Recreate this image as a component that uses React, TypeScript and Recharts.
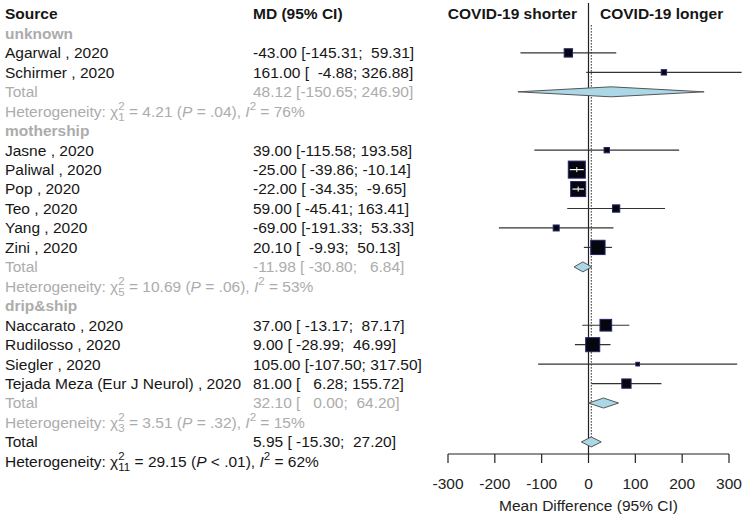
import React from 'react';
import { ComposedChart, XAxis, YAxis, Scatter, ReferenceLine } from 'recharts';

const FONT = '"Liberation Sans", Arial, Helvetica, sans-serif';

// ---------------- data ----------------
const groupNames = ['unknown', 'mothership', 'drip&ship'];
const studyNames = [
  'Agarwal , 2020',
  'Schirmer , 2020',
  'Jasne , 2020',
  'Paliwal , 2020',
  'Pop , 2020',
  'Teo , 2020',
  'Yang , 2020',
  'Zini , 2020',
  'Naccarato , 2020',
  'Rudilosso , 2020',
  'Siegler , 2020',
  'Tejada Meza (Eur J Neurol) , 2020',
];
const studyGroup = [0, 0, 1, 1, 1, 1, 1, 1, 2, 2, 2, 2];
const studyMD = [-43.0, 161.0, 39.0, -25.0, -22.0, 59.0, -69.0, 20.1, 37.0, 9.0, 105.0, 81.0];
const studyLower = [-145.31, -4.88, -115.58, -39.86, -34.35, -45.41, -191.33, -9.93, -13.17, -28.99, -107.5, 6.28];
const studyUpper = [59.31, 326.88, 193.58, -10.14, -9.65, 163.41, 53.33, 50.13, 87.17, 46.99, 317.5, 155.72];
const studyWeight = [5.1, 2.1, 2.1, 21.2, 16.5, 3.9, 2.6, 14.9, 10.0, 14.4, 1.0, 6.3];

const subMD = [48.12, -11.98, 32.1];
const subLower = [-150.65, -30.8, 0.0];
const subUpper = [246.9, 6.84, 64.2];
const subDf = ['1', '5', '3'];
const subChi = ['4.21', '10.69', '3.51'];
const subP = ['= .04', '= .06', '= .32'];
const subI2 = ['76%', '53%', '15%'];

const overallMD = 5.95;
const overallLower = -15.3;
const overallUpper = 27.2;
const overallDf = '11';
const overallChi = '29.15';
const overallP = '< .01';
const overallI2 = '62%';

const xTicks = [-300, -200, -100, 0, 100, 200, 300];
const headerLabels = ['Source', 'MD (95% CI)', 'COVID-19 shorter', 'COVID-19 longer'];
const axisTitle = 'Mean Difference (95% CI)';

// ---------------- layout constants ----------------
const W = 746;
const H = 516;
const Y_AXIS_W = 448;
const M_TOP = 3;
const M_RIGHT = 17;
const M_BOTTOM = 10;
const X_AXIS_H = 52;
const Y_MIN = -0.566;
const Y_MAX = 22.62;
const PLOT_W = W - Y_AXIS_W - M_RIGHT;
const PLOT_H = H - M_TOP - M_BOTTOM - X_AXIS_H;
const ROW_PX = PLOT_H / (Y_MAX - Y_MIN);
const PX_PER_UNIT = PLOT_W / 600;
const DOT_TOP = 0.57;
const DOT_BOTTOM = 22.28;
const DIAMOND_H = 5;
const FS = 15.5;
const BLACK = '#161616';
const GREY = '#acacac';
const COL_SRC = 5;
const COL_MD = 253;

const fmt = (v: number) => v.toFixed(2);
const mdText = (m: number, lo: number, hi: number) =>
  `${fmt(m)} [${fmt(lo).padStart(7)}; ${fmt(hi).padStart(6)}]`;
const sideOf = (w: number) => 3.7 * Math.sqrt(w);

// ---------------- rows ----------------
type Row =
  | { kind: 'header' }
  | { kind: 'group'; g: number }
  | { kind: 'study'; i: number }
  | { kind: 'subtotal'; g: number }
  | { kind: 'subhet'; g: number }
  | { kind: 'total' };

const rows: Row[] = [{ kind: 'header' }];
const studyRow: number[] = [];
const subRow: number[] = [];
groupNames.forEach((_, g) => {
  rows.push({ kind: 'group', g });
  studyNames.forEach((_, i) => {
    if (studyGroup[i] === g) {
      studyRow[i] = rows.length;
      rows.push({ kind: 'study', i });
    }
  });
  subRow[g] = rows.length;
  rows.push({ kind: 'subtotal', g });
  rows.push({ kind: 'subhet', g });
});
const totalRow = rows.length;
rows.push({ kind: 'total' });
const rowTicks = rows.map((_, i) => i);

const studyPoints = studyNames.map((name, i) => ({
  name,
  x: studyMD[i],
  row: studyRow[i],
  weight: studyWeight[i],
  lo: studyLower[i],
  hi: studyUpper[i],
}));

const diamonds = [
  ...subMD.map((m, g) => ({ m, lo: subLower[g], hi: subUpper[g], row: subRow[g] })),
  { m: overallMD, lo: overallLower, hi: overallUpper, row: totalRow },
];

// ---------------- rendering helpers ----------------
function Het({ y, df, chi, p, i2, color }: any) {
  return (
    <text x={COL_SRC} y={y} dy="0.35em" fontSize={FS} fill={color} fontFamily={FONT}>
      <tspan>Heterogeneity: χ</tspan>
      <tspan fontSize={11.5} dy={-6.5}>2</tspan>
      <tspan fontSize={11.5} dx={-6.4} dy={11}>{df}</tspan>
      <tspan dy={-4.5}>{` = ${chi} (`}</tspan>
      <tspan fontStyle="italic">P</tspan>
      <tspan>{` ${p}), `}</tspan>
      <tspan fontStyle="italic">I</tspan>
      <tspan fontSize={11.5} dy={-6.5}>2</tspan>
      <tspan dy={6.5}>{` = ${i2}`}</tspan>
    </text>
  );
}

function T({ x, y, children, color = BLACK, bold = false, anchor = 'start' }: any) {
  return (
    <text
      x={x}
      y={y}
      dy="0.35em"
      fontSize={FS}
      fill={color}
      fontFamily={FONT}
      fontWeight={bold ? 'bold' : 'normal'}
      textAnchor={anchor}
      style={{ whiteSpace: 'pre' }}
    >
      {children}
    </text>
  );
}

function renderRowTick(props: any) {
  const { y, payload } = props;
  const r = rows[payload.value];
  if (!r) return <g />;
  if (r.kind === 'header') {
    return (
      <g>
        <T x={COL_SRC} y={y} bold>{headerLabels[0]}</T>
        <T x={COL_MD} y={y} bold>{headerLabels[1]}</T>
        <T x={577} y={y} bold anchor="end">{headerLabels[2]}</T>
        <T x={600} y={y} bold>{headerLabels[3]}</T>
      </g>
    );
  }
  if (r.kind === 'group') {
    return (
      <g>
        <T x={COL_SRC} y={y} bold color={GREY}>{groupNames[r.g]}</T>
      </g>
    );
  }
  if (r.kind === 'study') {
    const i = r.i;
    return (
      <g>
        <T x={COL_SRC} y={y}>{studyNames[i]}</T>
        <T x={COL_MD} y={y}>{mdText(studyMD[i], studyLower[i], studyUpper[i])}</T>
      </g>
    );
  }
  if (r.kind === 'subtotal') {
    const g = r.g;
    return (
      <g>
        <T x={COL_SRC} y={y} color={GREY}>Total</T>
        <T x={COL_MD} y={y} color={GREY}>{mdText(subMD[g], subLower[g], subUpper[g])}</T>
      </g>
    );
  }
  if (r.kind === 'subhet') {
    const g = r.g;
    return (
      <g>
        <Het y={y} df={subDf[g]} chi={subChi[g]} p={subP[g]} i2={subI2[g]} color={GREY} />
      </g>
    );
  }
  // overall total + its heterogeneity line below
  return (
    <g>
      <T x={COL_SRC} y={y}>Total</T>
      <T x={COL_MD} y={y}>{mdText(overallMD, overallLower, overallUpper)}</T>
      <Het y={y + ROW_PX} df={overallDf} chi={overallChi} p={overallP} i2={overallI2} color={BLACK} />
    </g>
  );
}

function renderSquare(props: any) {
  const { cx, cy, payload } = props;
  if (cx == null || cy == null) return <g />;
  const s = sideOf(payload.weight);
  return (
    <rect
      x={cx - s / 2}
      y={cy - s / 2}
      width={s}
      height={s}
      fill="#06060f"
      stroke="#24246a"
      strokeWidth={1}
    />
  );
}

const leftHalf = (p: any) => {
  const { x1, y1, x2 } = p;
  return (
    <g>
      <path
        d={`M${x1},${y1} L${x2},${y1 - DIAMOND_H} L${x2 + 0.6},${y1 - DIAMOND_H} L${x2 + 0.6},${y1 + DIAMOND_H} L${x2},${y1 + DIAMOND_H} Z`}
        fill="#abd7e6"
        stroke="none"
      />
      <path
        d={`M${x2},${y1 - DIAMOND_H} L${x1},${y1} L${x2},${y1 + DIAMOND_H}`}
        fill="none"
        stroke="#555"
        strokeWidth={1}
      />
    </g>
  );
};
const rightHalf = (p: any) => {
  const { x1, y1, x2 } = p;
  return (
    <g>
      <path
        d={`M${x1},${y1 - DIAMOND_H} L${x2},${y1} L${x1},${y1 + DIAMOND_H} Z`}
        fill="#abd7e6"
        stroke="none"
      />
      <path
        d={`M${x1},${y1 - DIAMOND_H} L${x2},${y1} L${x1},${y1 + DIAMOND_H}`}
        fill="none"
        stroke="#555"
        strokeWidth={1}
      />
    </g>
  );
};

const whiteLeft = (p: any) => {
  const { x1, y1, x2 } = p;
  return (
    <g>
      <line x1={x1} y1={y1} x2={x2} y2={y1} stroke="#fff" strokeWidth={1.2} />
      <line x1={x2} y1={y1 - 2.5} x2={x2} y2={y1 + 2.5} stroke="#fff" strokeWidth={1} />
    </g>
  );
};
const whiteRight = (p: any) => {
  const { x1, y1, x2 } = p;
  return <line x1={x1} y1={y1} x2={x2} y2={y1} stroke="#fff" strokeWidth={1.2} />;
};

const innerStudies = studyPoints.filter(
  (s) => (s.hi - s.lo) * PX_PER_UNIT < sideOf(s.weight)
);

export default function App() {
  return (
    <div style={{ width: W, height: H, background: '#fff' }}>
      <style>{`body{margin:0;background:#fff}`}</style>
      <ComposedChart
        width={W}
        height={H}
        margin={{ top: M_TOP, right: M_RIGHT, bottom: M_BOTTOM, left: 0 }}
      >
        <XAxis
          type="number"
          dataKey="x"
          domain={[-300, 300]}
          ticks={xTicks}
          interval={0}
          height={X_AXIS_H}
          tickSize={9}
          tickMargin={15}
          axisLine={{ stroke: '#222', strokeWidth: 1.2 }}
          tickLine={{ stroke: '#222', strokeWidth: 1.2 }}
          tick={{ fontSize: FS, fill: '#222', fontFamily: FONT }}
          label={{
            value: axisTitle,
            position: 'insideBottom',
            offset: -5,
            fontSize: FS,
            fill: '#222',
            fontFamily: FONT,
          }}
        />
        <YAxis
          type="number"
          dataKey="row"
          domain={[Y_MIN, Y_MAX]}
          allowDataOverflow
          reversed
          ticks={rowTicks}
          interval={0}
          width={Y_AXIS_W}
          axisLine={false}
          tickLine={false}
          tick={renderRowTick}
        />
        <ReferenceLine x={0} stroke="#222" strokeWidth={1.2} ifOverflow="visible" zIndex={100} />
        <ReferenceLine
          segment={[
            { x: overallMD, y: DOT_TOP },
            { x: overallMD, y: DOT_BOTTOM },
          ]}
          stroke="#222"
          strokeWidth={1}
          strokeDasharray="1.5 1.5"
          ifOverflow="visible"
          zIndex={100}
        />
        {studyPoints.map((s, i) => (
          <ReferenceLine
            key={`ci-${i}`}
            segment={[
              { x: s.lo, y: s.row },
              { x: s.hi, y: s.row },
            ]}
            stroke="#333"
            strokeWidth={1.2}
            ifOverflow="visible"
            zIndex={100}
          />
        ))}
        <Scatter
          data={studyPoints}
          shape={renderSquare}
          isAnimationActive={false}
          zIndex={200}
        />
        {innerStudies.map((s, i) => (
          <ReferenceLine
            key={`wl-${i}`}
            segment={[
              { x: s.lo, y: s.row },
              { x: s.x, y: s.row },
            ]}
            shape={whiteLeft}
            ifOverflow="visible"
            zIndex={300}
          />
        ))}
        {innerStudies.map((s, i) => (
          <ReferenceLine
            key={`wr-${i}`}
            segment={[
              { x: s.x, y: s.row },
              { x: s.hi, y: s.row },
            ]}
            shape={whiteRight}
            ifOverflow="visible"
            zIndex={300}
          />
        ))}
        {diamonds.map((d, i) => (
          <ReferenceLine
            key={`dl-${i}`}
            segment={[
              { x: d.lo, y: d.row },
              { x: d.m, y: d.row },
            ]}
            shape={leftHalf}
            ifOverflow="visible"
            zIndex={300}
          />
        ))}
        {diamonds.map((d, i) => (
          <ReferenceLine
            key={`dr-${i}`}
            segment={[
              { x: d.m, y: d.row },
              { x: d.hi, y: d.row },
            ]}
            shape={rightHalf}
            ifOverflow="visible"
            zIndex={300}
          />
        ))}
      </ComposedChart>
    </div>
  );
}
